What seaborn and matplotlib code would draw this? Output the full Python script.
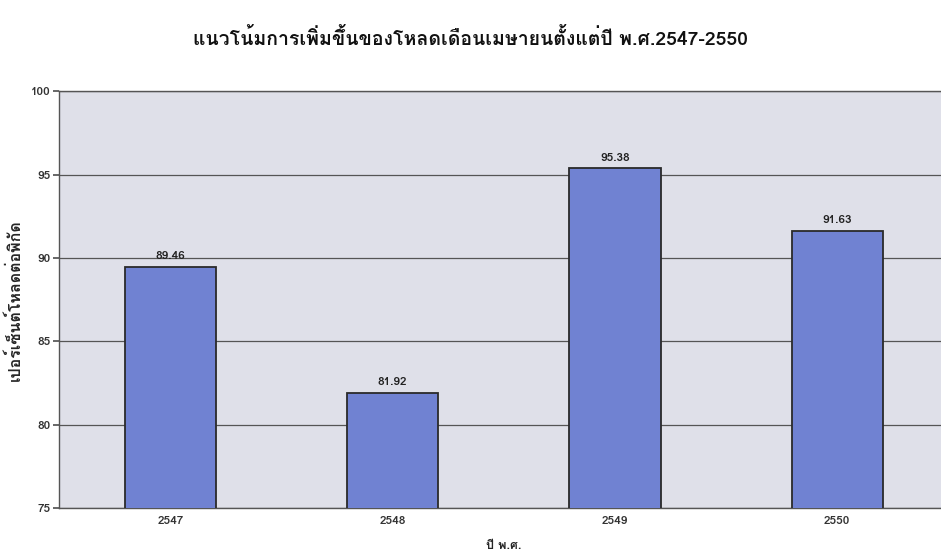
import matplotlib
matplotlib.use("Agg")
import matplotlib.pyplot as plt
from matplotlib import font_manager
import seaborn as sns
import pandas as pd

years = ["2547", "2548", "2549", "2550"]
load_pct = [89.46, 81.92, 95.38, 91.63]
yticks = [75, 80, 85, 90, 95, 100]

title = "แนวโน้มการเพิ่มขึ้นของโหลดเดือนเมษายนตั้งแต่ปี พ.ศ.2547-2550"
ylabel = "เปอร์เซ็นต์โหลดต่อพิกัด"
xlabel = "ปี พ.ศ."


def thai_families():
    """Installed families whose fonts carry Thai glyphs."""
    found = []
    try:
        from fontTools.ttLib import TTFont
    except ImportError:
        return found
    for entry in font_manager.fontManager.ttflist:
        if entry.name in found:
            continue
        try:
            cmap = TTFont(entry.fname, fontNumber=0, lazy=True).getBestCmap()
        except Exception:
            continue
        if cmap and ord("ก") in cmap and ord("ุ") in cmap:
            found.append(entry.name)
    return found


sns.set_theme(style="white")
families = thai_families() + ["DejaVu Sans"]
plt.rcParams["font.family"] = families

df = pd.DataFrame({"year": years, "pct": load_pct})

fig = plt.figure(figsize=(9.41, 5.57), dpi=100)
ax = fig.add_axes([0.063, 0.088, 0.945, 0.748])
ax.set_facecolor("#dfe0e9")

sns.barplot(data=df, x="year", y="pct", color="#7082d2", saturation=1,
            width=0.41, edgecolor="#2a2a2a", linewidth=1.3, ax=ax, zorder=3)

ax.set_ylim(75, 100)
ax.set_yticks(yticks)
ax.set_xlim(-0.5, 3.5)
ax.yaxis.grid(True, color="#555555", linewidth=0.9, zorder=1)
ax.set_axisbelow(True)

for s in ["top", "right", "bottom", "left"]:
    ax.spines[s].set_color("#555555")
    ax.spines[s].set_linewidth(1.0)

ax.tick_params(axis="y", length=4, color="#555555", labelsize=8.5, pad=2, left=True)
ax.tick_params(axis="x", length=0, labelsize=8.5, pad=6)
for lbl in ax.get_xticklabels() + ax.get_yticklabels():
    lbl.set_fontweight("bold")
    lbl.set_color("#333333")

for i, v in enumerate(load_pct):
    ax.text(i, v + 0.35, f"{v:.2f}", ha="center", va="bottom",
            fontsize=8.5, fontweight="bold", color="#222222", zorder=5)

ax.set_xlabel(xlabel, fontsize=9, fontweight="bold", labelpad=10)
ax.set_ylabel(ylabel, fontsize=11.5, fontweight="bold", labelpad=6)

fig.text(0.5, 0.93, title, ha="center", va="center",
         fontsize=14, fontweight="bold", color="#111111")

fig.savefig("out.png", dpi=100, facecolor="white")
